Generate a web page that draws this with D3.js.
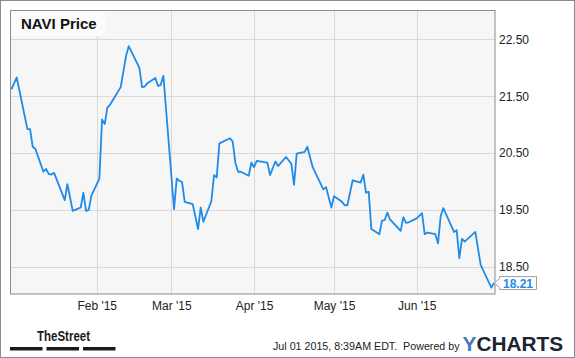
<!DOCTYPE html>
<html>
<head>
<meta charset="utf-8">
<script src="https://cdn.jsdelivr.net/npm/d3@7"></script>
<style>
    html, body { margin: 0; padding: 0; background: #fff; }
    svg { display: block; font-family: "Liberation Sans", Arial, sans-serif; }
</style>
</head>
<body>
<div id="chart"></div>
<script>
// Daily closes (only the days where the line turns)
const priceDates = [
    '2014-12-31', '2015-01-02', '2015-01-06', '2015-01-07', '2015-01-08', '2015-01-09',
    '2015-01-12', '2015-01-13', '2015-01-14', '2015-01-15', '2015-01-16', '2015-01-20',
    '2015-01-21', '2015-01-23', '2015-01-26', '2015-01-27', '2015-01-28', '2015-01-29',
    '2015-01-30', '2015-02-02', '2015-02-03', '2015-02-04', '2015-02-05', '2015-02-06',
    '2015-02-10', '2015-02-12', '2015-02-13', '2015-02-17', '2015-02-18', '2015-02-19',
    '2015-02-20', '2015-02-23', '2015-02-24', '2015-02-25', '2015-02-26', '2015-03-02',
    '2015-03-03', '2015-03-04', '2015-03-05', '2015-03-06', '2015-03-09', '2015-03-11',
    '2015-03-12', '2015-03-13', '2015-03-16', '2015-03-17', '2015-03-18', '2015-03-19',
    '2015-03-23', '2015-03-24', '2015-03-25', '2015-03-26', '2015-03-27', '2015-03-30',
    '2015-03-31', '2015-04-01', '2015-04-02', '2015-04-06', '2015-04-07', '2015-04-09',
    '2015-04-10', '2015-04-13', '2015-04-15', '2015-04-16', '2015-04-17', '2015-04-20',
    '2015-04-21', '2015-04-22', '2015-04-23', '2015-04-27', '2015-04-28', '2015-04-30',
    '2015-05-01', '2015-05-04', '2015-05-05', '2015-05-06', '2015-05-08', '2015-05-11',
    '2015-05-12', '2015-05-13', '2015-05-14', '2015-05-15', '2015-05-18', '2015-05-19',
    '2015-05-20', '2015-05-21', '2015-05-22', '2015-05-26', '2015-05-27', '2015-05-28',
    '2015-05-29', '2015-06-01', '2015-06-03', '2015-06-04', '2015-06-05', '2015-06-08',
    '2015-06-09', '2015-06-10', '2015-06-11', '2015-06-15', '2015-06-16', '2015-06-17',
    '2015-06-18', '2015-06-19', '2015-06-23', '2015-06-25', '2015-06-29', '2015-06-30'
];
const priceValues = [
    21.62, 21.83, 20.92, 20.92, 20.61, 20.57,
    20.17, 20.22, 20.13, 20.12, 20.15, 19.67,
    19.95, 19.48, 19.54, 19.80, 19.48, 19.50,
    19.75, 20.05, 21.09, 21.01, 21.30, 21.35,
    21.66, 22.21, 22.38, 22.00, 21.66, 21.67,
    21.73, 21.82, 21.68, 21.70, 21.86, 19.51,
    20.05, 20.01, 19.99, 19.64, 19.60, 19.16,
    19.54, 19.29, 19.65, 20.11, 20.07, 20.67,
    20.76, 20.70, 20.33, 20.17, 20.17, 20.10,
    20.33, 20.25, 20.36, 20.33, 20.11, 20.35,
    20.27, 20.43, 20.31, 19.94, 20.49, 20.52,
    20.61, 20.43, 20.25, 19.86, 19.90, 19.54,
    19.74, 19.64, 19.58, 19.58, 20.02, 19.98,
    20.12, 19.80, 19.82, 19.16, 19.07, 19.31,
    19.32, 19.45, 19.33, 19.13, 19.37, 19.27,
    19.28, 19.35, 19.44, 19.07, 19.10, 19.07,
    18.91, 19.39, 19.53, 19.11, 19.14, 18.65,
    18.99, 18.94, 19.11, 18.53, 18.13, 18.21
];
const yTicks = [18.5, 19.5, 20.5, 21.5, 22.5];
const xTicks = ['2015-02-01', '2015-03-01', '2015-04-01', '2015-05-01', '2015-06-01'];
const timeDomain = ['2014-12-31', '2015-06-30'];

const chartTitle = 'NAVI Price';
const footerText = 'Jul 01 2015, 8:39AM EDT.  Powered by';

const size = { width: 575, height: 358 };
// plot box inside the outer frame
const plot = { left: 10.5, top: 10.5, right: 495, bottom: 294 };

const parseDate = d3.timeParse('%Y-%m-%d');
const lineColor = '#1f8be8';

const myData = priceDates.map((d, i) => ({ date: parseDate(d), value: priceValues[i] }));

const svg = d3.select('#chart')
    .append('svg')
    .attr('width', size.width)
    .attr('height', size.height);

// outer frame
svg.append('rect')
    .attr('x', 0.5).attr('y', 0.5)
    .attr('width', size.width - 1).attr('height', size.height - 1)
    .attr('fill', '#fff')
    .attr('stroke', '#8c8c8c');

// scales
const xScale = d3.scaleTime()
    .domain(timeDomain.map(parseDate))
    .range([11.4, 494]);
const yScale = d3.scaleLinear()
    .domain([18.5, 22.5])
    .range([266.6, 39.4]);

// plot background
svg.append('rect')
    .attr('x', plot.left).attr('y', plot.top)
    .attr('width', plot.right - plot.left).attr('height', plot.bottom - plot.top)
    .attr('fill', '#f6f6f6');

// grid lines
const grid = svg.append('g').attr('class', 'grid');
grid.selectAll('.hgrid').data(yTicks).enter()
    .append('line')
    .attr('class', 'hgrid')
    .attr('x1', plot.left).attr('x2', plot.right)
    .attr('y1', d => Math.round(yScale(d)) + 0.5)
    .attr('y2', d => Math.round(yScale(d)) + 0.5)
    .attr('stroke', '#d9d9d9');
grid.selectAll('.vgrid').data(xTicks.map(parseDate)).enter()
    .append('line')
    .attr('class', 'vgrid')
    .attr('y1', plot.top).attr('y2', plot.bottom)
    .attr('x1', d => Math.round(xScale(d)) + 0.5)
    .attr('x2', d => Math.round(xScale(d)) + 0.5)
    .attr('stroke', '#d9d9d9');

// plot border
svg.append('rect')
    .attr('x', plot.left).attr('y', plot.top)
    .attr('width', plot.right - plot.left).attr('height', plot.bottom - plot.top)
    .attr('fill', 'none')
    .attr('stroke', '#8c8c8c');

// title box
svg.append('rect')
    .attr('x', 11).attr('y', 11)
    .attr('width', 94).attr('height', 25)
    .attr('fill', '#fbfbfb');
svg.append('text')
    .attr('x', 21).attr('y', 29)
    .attr('font-size', 15)
    .attr('font-weight', 'bold')
    .attr('fill', '#111')
    .text(chartTitle);

// price line
const line = d3.line()
    .x(d => xScale(d.date))
    .y(d => yScale(d.value));
svg.append('path')
    .datum(myData)
    .attr('d', line)
    .attr('fill', 'none')
    .attr('stroke', lineColor)
    .attr('stroke-width', 1.8)
    .attr('stroke-linejoin', 'round');

// y axis on the right
const yAxis = d3.axisRight(yScale)
    .tickValues(yTicks)
    .tickFormat(d3.format('.2f'))
    .tickSize(0)
    .tickPadding(4);
const yAxisG = svg.append('g')
    .attr('transform', 'translate(' + plot.right + ',0)')
    .call(yAxis);
yAxisG.select('.domain').remove();
yAxisG.selectAll('text')
    .attr('font-size', 12)
    .attr('font-family', '"Liberation Sans", Arial, sans-serif')
    .attr('fill', '#222');

// x axis below
const xAxis = d3.axisBottom(xScale)
    .tickValues(xTicks.map(parseDate))
    .tickFormat(d3.timeFormat("%b '%y"))
    .tickSize(0)
    .tickPadding(7);
const xAxisG = svg.append('g')
    .attr('transform', 'translate(0,' + plot.bottom + ')')
    .call(xAxis);
xAxisG.select('.domain').remove();
xAxisG.selectAll('text')
    .attr('font-size', 12)
    .attr('font-family', '"Liberation Sans", Arial, sans-serif')
    .attr('fill', '#222');

// last value flag
const last = myData[myData.length - 1];
const lx = xScale(last.date) + 0.5;
const ly = yScale(last.value);
svg.append('path')
    .attr('d', 'M' + lx + ',' + ly +
        'L' + (lx + 5) + ',' + (ly - 4.5) +
        'V' + (ly - 6.5) + 'H' + (lx + 42) + 'V' + (ly + 6.5) +
        'H' + (lx + 5) + 'V' + (ly + 4.5) + 'Z')
    .attr('fill', '#fff')
    .attr('stroke', '#a0a0a0');
svg.append('text')
    .attr('x', lx + 23.5).attr('y', ly + 4.5)
    .attr('text-anchor', 'middle')
    .attr('font-size', 12)
    .attr('font-weight', 'bold')
    .attr('fill', lineColor)
    .text(d3.format('.2f')(last.value));

// footer: TheStreet logo
svg.append('text')
    .attr('x', 37).attr('y', 341)
    .attr('font-size', 15)
    .attr('font-weight', 'bold')
    .attr('font-family', '"Liberation Sans Narrow", "Liberation Sans", Arial, sans-serif')
    .attr('textLength', 53)
    .attr('lengthAdjust', 'spacingAndGlyphs')
    .attr('fill', '#1a1a1a')
    .text('TheStreet');
svg.selectAll('.streetBar').data([10, 46.5, 83]).enter()
    .append('rect')
    .attr('class', 'streetBar')
    .attr('x', d => d).attr('y', 347)
    .attr('width', 32.5).attr('height', 3.5)
    .attr('fill', '#1a1a1a');

// footer: timestamp and YCharts logo
svg.append('text')
    .attr('x', 273).attr('y', 349.5)
    .attr('font-size', 10.7)
    .attr('fill', '#222')
    .attr('xml:space', 'preserve')
    .style('white-space', 'pre')
    .text(footerText);
const logo = svg.append('text')
    .attr('x', 462.5).attr('y', 350.5)
    .attr('font-size', 21)
    .attr('font-weight', 'bold')
    .attr('textLength', 100.5)
    .attr('lengthAdjust', 'spacingAndGlyphs');
logo.append('tspan').attr('fill', '#4477bb').text('Y');
logo.append('tspan').attr('fill', '#1c2433').text('CHARTS');
</script>
</body>
</html>
